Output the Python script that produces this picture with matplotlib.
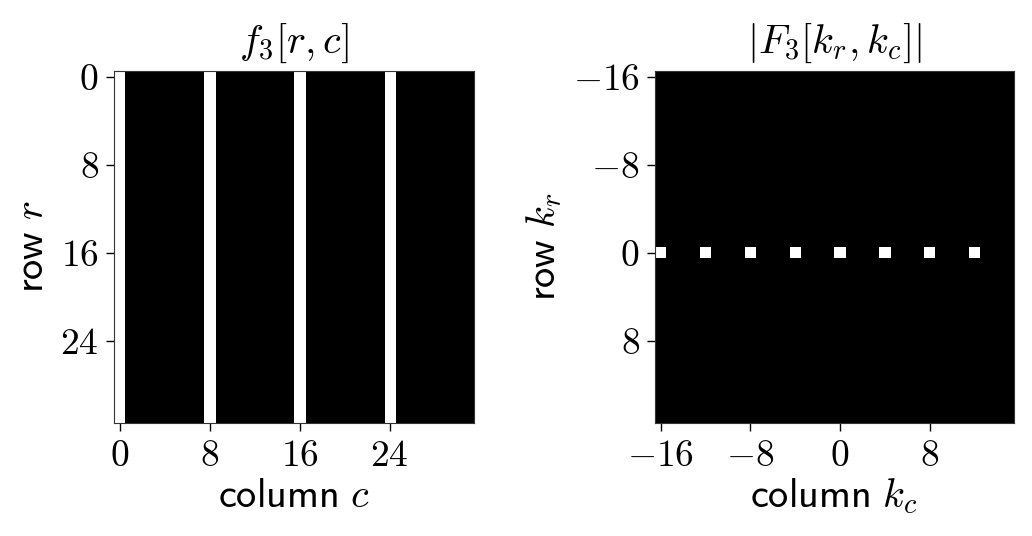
import numpy as np
import matplotlib
matplotlib.use("Agg")
import matplotlib.pyplot as plt

plt.rcParams['mathtext.fontset'] = 'cm'

# ---- data ----
N = 32
white_columns = [0, 8, 16, 24]          # columns of f3 equal to 1
peak_kc = [-16, -12, -8, -4, 0, 4, 8, 12]  # nonzero frequencies of |F3|
peak_kr = [0, 0, 0, 0, 0, 0, 0, 0]
peak_mag = [1, 1, 1, 1, 1, 1, 1, 1]

left_ticks = [0, 8, 16, 24]
right_ticks = [-16, -8, 0, 8]

f3 = np.zeros((N, N))
f3[:, white_columns] = 1.0

F3 = np.zeros((N, N))
for kr, kc, m in zip(peak_kr, peak_kc, peak_mag):
    F3[kr + N // 2, kc + N // 2] = m

fig = plt.figure(figsize=(10.32, 5.36), dpi=100)
W, H = 1032, 536
ax1 = fig.add_axes([114 / W, 1 - 423 / H, 360 / W, 352 / H])
ax2 = fig.add_axes([655 / W, 1 - 423 / H, 359 / W, 352 / H])

fs = 27
lfs = 29
ax1.imshow(f3, cmap='gray', vmin=0, vmax=1, aspect='auto',
           interpolation='nearest', extent=(-0.5, N - 0.5, N - 0.5, -0.5))
ax2.imshow(F3, cmap='gray', vmin=0, vmax=1, aspect='auto',
           interpolation='nearest',
           extent=(-N // 2 - 0.5, N // 2 - 0.5, N // 2 - 0.5, -N // 2 - 0.5))

for ax, ticks in ((ax1, left_ticks), (ax2, right_ticks)):
    ax.set_xticks(ticks, labels=[f'${t}$' for t in ticks])
    ax.set_yticks(ticks, labels=[f'${t}$' for t in ticks])
    ax.tick_params(labelsize=fs, length=6, width=1, direction='out', pad=5)
    for s in ax.spines.values():
        s.set_linewidth(0.8)
        s.set_color('#333333')

ax1.set_title(r'$f_3[r,c]$', fontsize=lfs, pad=13)
ax2.set_title(r'$|F_3[k_r,k_c]|$', fontsize=lfs, pad=13)
ax1.set_xlabel(r'$\mathsf{column}\ c$', fontsize=lfs, labelpad=1)
ax1.set_ylabel(r'$\mathsf{row}\ r$', fontsize=lfs, labelpad=6)
ax2.set_xlabel(r'$\mathsf{column}\ k_c$', fontsize=lfs, labelpad=1)
ax2.set_ylabel(r'$\mathsf{row}\ k_r$', fontsize=lfs, labelpad=6)

fig.savefig('out.png', dpi=100)
